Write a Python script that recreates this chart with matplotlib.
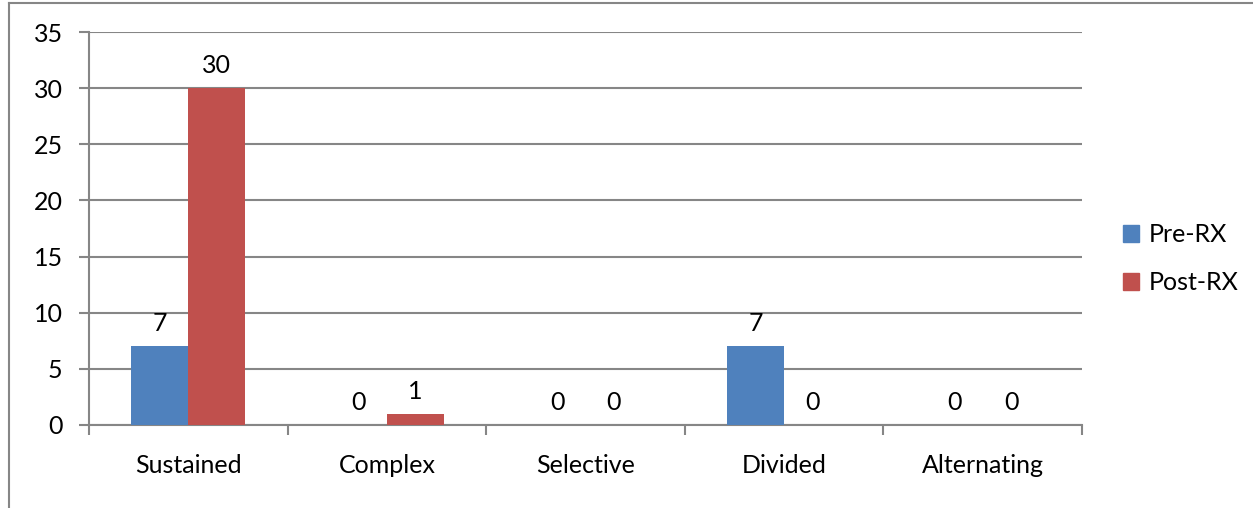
import numpy as np
import matplotlib.pyplot as plt
from matplotlib.lines import Line2D
from matplotlib.patches import Patch

categories = ['Sustained', 'Complex', 'Selective', 'Divided', 'Alternating']
pre_rx = [7, 0, 0, 7, 0]
post_rx = [30, 1, 0, 0, 0]
series_names = ['Pre-RX', 'Post-RX']
yticks = [0, 5, 10, 15, 20, 25, 30, 35]

blue = '#4F81BD'
red = '#C0504D'
grey = '#868686'

plt.rcParams['font.family'] = ['Lato', 'DejaVu Sans']
fs = 18

fig = plt.figure(figsize=(12.53, 5.08), dpi=100)
ax = fig.add_axes([89 / 1253, 1 - 425 / 508, (1082 - 89) / 1253, (425 - 32) / 508])

x = np.arange(len(categories))
w = 0.2865
b1 = ax.bar(x - w / 2, pre_rx, w, color=blue, label=series_names[0], zorder=3)
b2 = ax.bar(x + w / 2, post_rx, w, color=red, label=series_names[1], zorder=3)

# value labels above each bar
for bars, vals in ((b1, pre_rx), (b2, post_rx)):
    for rect, v in zip(bars, vals):
        ax.annotate(str(v), (rect.get_x() + rect.get_width() / 2, v),
                    xytext=(0, 8), textcoords='offset points',
                    ha='center', va='bottom', fontsize=fs)

ax.set_xlim(-0.5, len(categories) - 0.5)
ax.set_ylim(0, 35)
ax.set_yticks(yticks)
ax.tick_params(axis='y', length=7, width=1.5, color=grey, labelsize=fs, pad=12)
ax.yaxis.grid(True, color=grey, linewidth=1.5, zorder=0)

# category labels between boundary ticks
ax.set_xticks(np.arange(len(categories) + 1) - 0.5)
ax.set_xticklabels([])
ax.set_xticks(x, minor=True)
ax.set_xticklabels(categories, minor=True, fontsize=fs)
ax.tick_params(axis='x', which='minor', length=0, pad=21)
ax.tick_params(axis='x', which='major', length=7, width=1.5, color=grey)

for side in ('top', 'right'):
    ax.spines[side].set_visible(False)
for side in ('left', 'bottom'):
    ax.spines[side].set_color(grey)
    ax.spines[side].set_linewidth(1.5)

handles = [Patch(color=blue), Patch(color=red)]
fig.legend(handles, series_names, loc='center left',
           bbox_to_anchor=(1100 / 1253, 1 - 259 / 508), frameon=False,
           fontsize=fs, handlelength=0.65, handleheight=0.65,
           handletextpad=0.4, labelspacing=1.0)

# outer chart frame
fig.add_artist(Line2D([8.5 / 1253, 1], [1 - 2.5 / 508, 1 - 2.5 / 508], color=grey, lw=1.5))
fig.add_artist(Line2D([8.5 / 1253, 8.5 / 1253], [0, 1 - 2.5 / 508], color=grey, lw=1.5))

fig.savefig('out.png', dpi=100)
